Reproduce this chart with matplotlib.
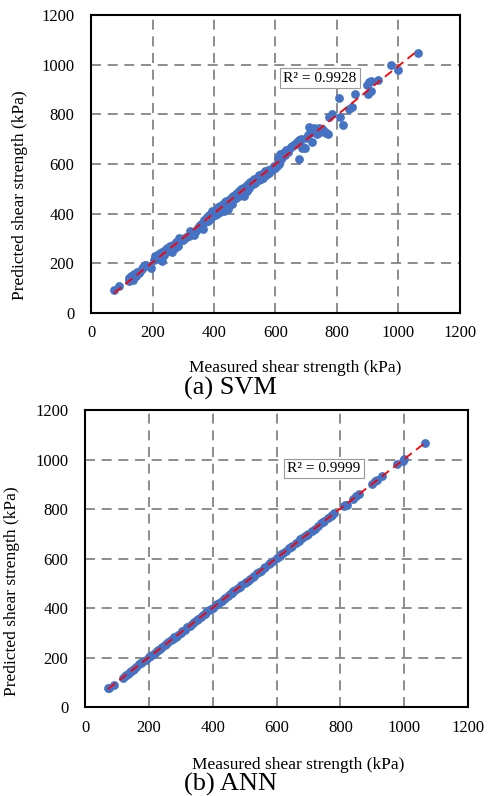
import numpy as np
import matplotlib
matplotlib.use("Agg")
import matplotlib.pyplot as plt

plt.rcParams["font.family"] = ["Liberation Serif", "DejaVu Serif"]

# SVM: measured vs predicted shear strength (kPa)
svm_measured = [75, 90, 122, 125, 128, 130, 135, 138, 140, 145, 150, 155, 160, 165, 170, 175, 180, 190, 195,
                205, 208, 212, 215, 220, 225, 230, 232, 238, 242, 248, 252, 258, 262, 265, 268, 272, 278, 282,
                285, 290, 298, 305, 310, 318, 322, 330, 335, 340, 345, 352, 358, 362, 365, 368, 372, 378, 380,
                385, 388, 392, 395, 398, 400, 403, 408, 410, 412, 415, 418, 420, 423, 428, 430, 432, 435, 438,
                440, 443, 445, 448, 452, 455, 458, 460, 462, 466, 470, 473, 476, 480, 482, 485, 488, 492, 495,
                498, 500, 503, 506, 510, 513, 516, 520, 523, 527, 530, 535, 540, 545, 548, 552, 555, 560, 565,
                570, 575, 580, 585, 590, 595, 600, 605, 608, 612, 615, 618, 622, 625, 630, 635, 640, 645, 650,
                655, 660, 665, 670, 675, 678, 682, 685, 690, 695, 700, 705, 710, 712, 715, 718, 720, 725, 730,
                735, 740, 745, 750, 755, 760, 765, 770, 775, 785, 808, 810, 820, 838, 848, 858, 898, 900, 905,
                910, 912, 932, 975, 998, 1065]
svm_predicted = [92, 108, 128, 140, 135, 150, 145, 132, 158, 150, 165, 160, 170, 178, 185, 195, 192, 190, 180,
                 215, 228, 222, 235, 225, 240, 210, 245, 232, 255, 262, 250, 270, 258, 245, 275, 262, 285, 270,
                 300, 295, 292, 300, 305, 310, 330, 320, 315, 330, 338, 350, 360, 355, 340, 375, 368, 385, 372,
                 395, 380, 400, 410, 392, 405, 395, 415, 400, 425, 420, 405, 432, 415, 440, 425, 410, 445, 430,
                 450, 438, 420, 455, 445, 465, 450, 440, 470, 460, 478, 465, 485, 470, 490, 478, 500, 485, 505,
                 470, 495, 512, 490, 520, 505, 528, 515, 532, 520, 538, 525, 545, 535, 555, 540, 560, 545, 570,
                 555, 575, 565, 580, 575, 590, 582, 590, 625, 600, 640, 620, 630, 645, 635, 655, 650, 660, 668,
                 672, 675, 680, 690, 695, 622, 700, 665, 668, 665, 705, 715, 750, 725, 740, 690, 730, 745, 738,
                 720, 745, 730, 740, 735, 728, 725, 720, 790, 800, 865, 790, 755, 820, 828, 880, 920, 882, 930,
                 935, 895, 940, 1000, 978, 1045]

# ANN: measured vs predicted shear strength (kPa)
ann_measured = [72, 75, 90, 120, 125, 130, 135, 140, 145, 150, 155, 160, 170, 175, 180, 190, 200, 205, 210,
                218, 225, 230, 235, 240, 250, 255, 260, 268, 275, 280, 285, 290, 300, 305, 312, 320, 328, 335,
                340, 350, 355, 362, 370, 375, 380, 390, 395, 400, 410, 415, 420, 428, 435, 440, 448, 455, 460,
                465, 470, 480, 485, 490, 500, 505, 510, 518, 525, 530, 540, 545, 550, 560, 565, 575, 580, 590,
                600, 610, 615, 620, 630, 640, 645, 650, 660, 670, 675, 680, 690, 695, 700, 710, 720, 730, 740,
                745, 750, 760, 770, 775, 780, 810, 815, 820, 840, 850, 858, 900, 910, 915, 930, 978, 995, 1000,
                1065]
ann_predicted = [75, 78, 88, 118, 124, 130, 134, 141, 146, 151, 155, 162, 172, 176, 182, 191, 201, 206, 211,
                 219, 226, 232, 236, 242, 251, 256, 262, 269, 276, 281, 282, 292, 301, 307, 313, 322, 329, 336,
                 342, 351, 357, 363, 371, 376, 382, 391, 396, 402, 411, 416, 421, 429, 436, 442, 449, 457, 461,
                 467, 471, 482, 486, 492, 501, 507, 511, 519, 527, 531, 542, 546, 551, 562, 566, 576, 582, 591,
                 602, 611, 617, 622, 631, 641, 647, 651, 662, 671, 677, 682, 691, 697, 701, 712, 721, 731, 742,
                 747, 752, 762, 772, 777, 782, 812, 815, 818, 842, 852, 860, 902, 912, 917, 932, 980, 995, 1002,
                 1065]

panels = [
    (svm_measured, svm_predicted, "R\u00b2 = 0.9928", "(a) SVM"),
    (ann_measured, ann_predicted, "R\u00b2 = 0.9999", "(b) ANN"),
]
axes_pos = [[0.1865, 0.6068, 0.756, 0.3744], [0.1742, 0.1118, 0.7848, 0.3731]]
r2_pos = [(745, 946), (749, 962)]
ylab_pos = [(-0.171, 0.396), (-0.17, 0.39)]
xlab_pos = [(0.553, -0.158), (0.556, -0.168)]
cap_pos = [(0.472, 0.512), (0.473, 0.015)]

fig = plt.figure(figsize=(4.88, 7.96), dpi=100)

for i, (mx, py, r2, cap) in enumerate(panels):
    ax = fig.add_axes(axes_pos[i])
    ax.set_xlim(0, 1200)
    ax.set_ylim(0, 1200)
    ax.set_xticks(np.arange(0, 1201, 200))
    ax.set_yticks(np.arange(0, 1201, 200))
    ax.grid(True, color="#7a7a7a", linestyle=(0, (6, 4)), linewidth=1.2)
    ax.set_axisbelow(True)
    ax.tick_params(length=0, labelsize=12, pad=9)
    ax.tick_params(axis="y", pad=12)
    for s in ax.spines.values():
        s.set_linewidth(1.5)
        s.set_color("black")

    ax.scatter(mx, py, s=40, color="#4472C4", zorder=3, linewidths=0)

    # linear trendline
    coef = np.polyfit(mx, py, 1)
    xl = np.array([min(mx), max(mx)])
    ax.plot(xl, np.polyval(coef, xl), color="red", linestyle=(0, (5, 3)), linewidth=1.3, zorder=4)

    ax.text(r2_pos[i][0], r2_pos[i][1], r2, fontsize=11, ha="center", va="center", zorder=5,
            bbox=dict(boxstyle="square,pad=0.2", facecolor="white", edgecolor="#999999", linewidth=0.8))

    ax.set_xlabel("Measured shear strength (kPa)", fontsize=12.5)
    ax.set_ylabel("Predicted shear strength (kPa)", fontsize=12.5)
    ax.xaxis.set_label_coords(*xlab_pos[i])
    ax.yaxis.set_label_coords(*ylab_pos[i])
    fig.text(cap_pos[i][0], cap_pos[i][1], cap, fontsize=19, ha="center", va="center")

fig.savefig("out.png", dpi=100)
